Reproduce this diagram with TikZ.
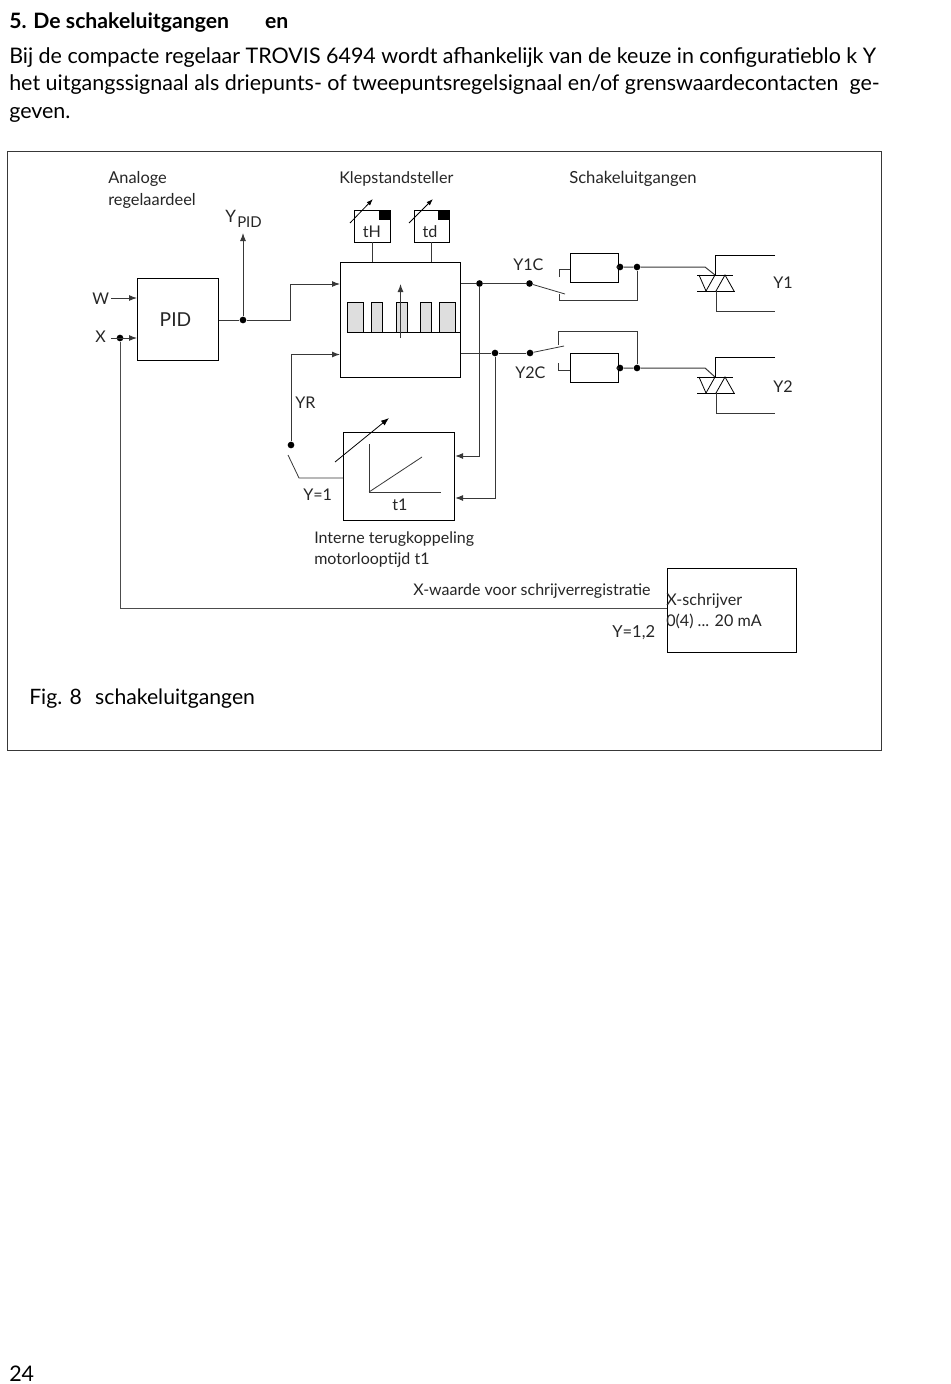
\documentclass[tikz,border=0pt]{standalone}
\usepackage{fontspec}
\setmainfont{Lato}
\usetikzlibrary{arrows.meta}
\definecolor{ln}{gray}{0.22}
\tikzset{
  x=0.75pt,y=-0.75pt,
  wire/.style={draw=ln,line width=0.75pt},
  arr/.style={wire,-{Latex[length=6pt,width=4.5pt]}},
  thin wire/.style={draw=ln,line width=0.6pt},
  box/.style={draw=black,line width=0.8pt,fill=white,inner sep=0pt,anchor=north west},
  dot/.style={circle,fill=black,inner sep=0pt,minimum size=5pt},
  lab/.style={inner sep=0pt,anchor=base west,font=\fontsize{12.1}{15}\selectfont,text=black!85},
  body/.style={inner sep=0pt,anchor=base west,font=\fontsize{16.1}{18}\selectfont,text=black},
  pulse/.style={draw=black,line width=0.6pt,fill=black!13},
  triac/.style={draw=black,line width=0.6pt},
}
\newcommand{\bx}[5]{\node[box,minimum width=#4*0.75pt,minimum height=#5*0.75pt] (#1) at (#2,#3) {};}
\begin{document}
\begin{tikzpicture}
\useasboundingbox (0,0) rectangle (950,1384);
\fill[white] (0,0) rectangle (950,1384);
% page text
\node[body,font=\fontsize{15.9}{18}\bfseries] (head) at (9,29) {5. De schakeluitgangen\hspace{27pt}en};
\node[body] (p1) at (9,64) {Bij de compacte regelaar TROVIS 6494 wordt afhankelijk van de keuze in configuratieblo k Y};
\node[body] (p2) at (9,91) {het uitgangssignaal als driepunts- of tweepuntsregelsignaal en/of grenswaardecontacten\ \ ge-};
\node[body] (p3) at (9,119) {geven.};
\node[body] (pg) at (9,1381) {24};
% frame
\node[box,draw=ln,minimum width=873.5*0.75pt,minimum height=599*0.75pt,line width=0.6pt] (frame) at (7,151) {};
% section labels
\node[lab,font=\fontsize{12.3}{15}\selectfont] (l1) at (108,183) {Analoge};
\node[lab,font=\fontsize{12.3}{15}\selectfont] (l2) at (108,205) {regelaardeel};
\node[lab] (l3) at (339,183) {Klepstandsteller};
\node[lab,font=\fontsize{12.5}{15}\selectfont] (l4) at (569,183) {Schakeluitgangen};
\node[lab,font=\fontsize{12.8}{15}\selectfont] (ly) at (225,222) {Y};
\node[lab,font=\fontsize{11.2}{15}\selectfont] (lpid) at (237,227) {PID};
% PID
\bx{pid}{137}{278}{81}{82}
\node[inner sep=0pt,font=\fontsize{14.4}{18}\selectfont,text=black!85] (pidt) at (175.5,320) {PID};
\node[lab] (w) at (92,304) {W};
\node[lab] (xl) at (95,342) {X};
\coordinate (wi) at (111,298);
\coordinate (xi) at (111,338);
\node[dot] (xd) at (120,338) {};
\draw[arr] (wi) -- (wi -| pid.west);
\draw[arr] (xi) -- (xi -| pid.west);
\node[dot] (yd) at (243,320) {};
\coordinate (yt) at (243,233);
\draw[arr] (yd) -- (yt);
% main box
\bx{main}{340}{262}{120}{115}
\coordinate (m1) at (290,284);
\coordinate (m2) at (291,354.5);
\draw[arr] (pid.east |- yd) -- (yd) -- (290,320) -- (m1) -- (m1 -| main.west);
\node[dot] (yr) at (291,445) {};
\draw[arr] (yr) -- (m2) -- (m2 -| main.west);
% pulses
\foreach \a/\b in {347/363,371/382,396/407,420/431,439/455}
  \fill[black!13] (\a,302) rectangle (\b,332);
\foreach \a/\b in {347/363,371/382,396/407,420/431,439/455}
  \draw[draw=black,line width=0.6pt] (\a,332) -- (\a,302) -- (\b,302) -- (\b,332);
\coordinate (bl) at (347,332);
\draw[draw=black,line width=0.7pt] (bl) -- (bl -| main.east);
\coordinate (ma) at (400.5,338);
\coordinate (mb) at (400.5,284);
\draw[arr] (ma) -- (mb);
% tH, td
\bx{tH}{354}{210}{36}{32}
\bx{td}{414}{210}{35}{32}
\fill (379,210) rectangle (390,220);
\fill (438,210) rectangle (449,220);
\node[lab,anchor=base] (tHt) at (372,237.5) {tH};
\node[lab,anchor=base] (tdt) at (430,237.5) {td};
\coordinate (a1) at (350,223); \coordinate (a2) at (373,199);
\coordinate (a3) at (409,223); \coordinate (a4) at (433,199);
\draw[thin wire,draw=black,-{Latex[length=5pt,width=3.5pt]}] (a1) -- (a2);
\draw[thin wire,draw=black,-{Latex[length=5pt,width=3.5pt]}] (a3) -- (a4);
\draw[wire] (372,242) -- (372,262);
\draw[wire] (431,242) -- (431,262);
% feedback box
\bx{fb}{343}{432}{111}{88}
\coordinate (s1) at (288,455); \coordinate (s2) at (299,478);
\draw[thin wire] (s1) -- (s2) -- (s2 -| fb.west);
\coordinate (f1) at (335,462); \coordinate (f2) at (389,418);
\draw[thin wire,draw=black,-{Latex[length=6pt,width=4.5pt]}] (f1) -- (f2);
\coordinate (c0) at (369,492);
\draw[thin wire] (369,444) -- (c0) -- (441,492);
\draw[thin wire] (c0) -- (422,457);
\node[lab,anchor=base] (t1) at (400,510) {t1};
\node[lab] (lyr) at (295,408) {YR};
\node[lab] (ly1) at (303,500) {Y=1};
\node[lab,font=\fontsize{12}{15}\selectfont] (it1) at (314,543) {Interne terugkoppeling};
\node[lab,font=\fontsize{12}{15}\selectfont] (it2) at (314,564) {motorlooptijd t1};
% outputs
\node[dot] (j1) at (479.5,283.5) {};
\node[dot] (j2) at (495,353) {};
\node[dot] (s1c) at (529.5,283.5) {};
\node[dot] (s2c) at (530,353) {};
\draw[wire] (main.east |- j1) -- (j1) -- (s1c);
\draw[wire] (main.east |- j2) -- (j2) -- (s2c);
\coordinate (r1) at (479.5,456); \coordinate (r2) at (495,498);
\draw[arr] (j1) -- (r1) -- (r1 -| fb.east);
\draw[arr] (j2) -- (r2) -- (r2 -| fb.east);
\node[lab] (ly1c) at (513,270) {Y1C};
\node[lab] (ly2c) at (515,378) {Y2C};
% relays
\bx{re1}{570}{253}{48}{29}
\bx{re2}{570}{353}{48}{29}
\node[dot] (d1) at (620,267) {};
\node[dot] (d2) at (637,267) {};
\node[dot] (d3) at (620,368) {};
\node[dot] (d4) at (637,368) {};
\draw[thin wire] (s1c) -- (565,294);
\draw[thin wire] (559,294) -- (559,300) -- (637,300) -- (d2);
\draw[thin wire] (559,277) -- (559,269) -- (570,269);
\draw[thin wire] (s2c) -- (564,346);
\draw[thin wire] (558,345) -- (558,331) -- (637,331) -- (d4);
\draw[thin wire] (558,363) -- (558,370.5) -- (570,370.5);
\draw[wire] (re1.east |- d1) -- (d1) -- (d2) -- (705,267) -- (715,275);
\draw[wire] (re2.east |- d3) -- (d3) -- (d4) -- (705,368) -- (715,377);
% triacs
\foreach \o in {0,102}{
  \draw[triac] (697,275+\o) -- (733,275+\o);
  \draw[triac] (697,291+\o) -- (735,291+\o);
  \draw[triac] (699,275+\o) -- (706,291+\o) -- (715,275+\o);
  \draw[triac] (716,291+\o) -- (725,275+\o) -- (734,291+\o);
  \draw[triac] (775,255+\o) -- (715,255+\o) -- (715,275+\o);
  \draw[thin wire] (716,291+\o) -- (716,311+\o) -- (775,311+\o);
}
\node[lab] (y1) at (773,288) {Y1};
\node[lab] (y2) at (773,392) {Y2};
% X recorder
\bx{xs}{667}{568}{128.5}{83.5}
\coordinate (x1) at (120,608);
\draw[wire,draw=black!70] (xd) -- (x1) -- (x1 -| xs.west);
\node[lab,font=\fontsize{12}{15}\selectfont] (xw) at (413,595) {X-waarde voor schrijverregistratie};
\node[lab] (xs1) at (666,605) {X-schrijver};
\node[lab] (xs2) at (666,626) {0(4) ... 20 mA};
\node[lab,font=\fontsize{12.4}{15}\selectfont] (y12) at (612,637) {Y=1,2};
\node[body,font=\fontsize{15.9}{18}\selectfont] (fig) at (29,704) {Fig. 8\hspace{10pt}schakeluitgangen};
\end{tikzpicture}
\end{document}
